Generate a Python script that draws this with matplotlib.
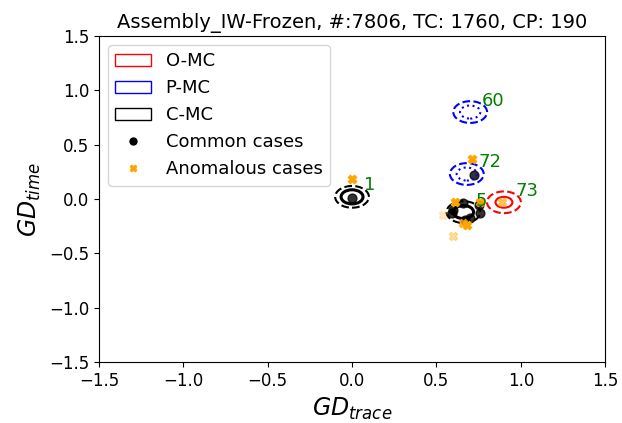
import matplotlib
matplotlib.use("Agg")
import matplotlib.pyplot as plt
from matplotlib.patches import Ellipse, Patch
from matplotlib.lines import Line2D

# clusters (center x, center y, outer radius, inner radius)
cl_ids = ["1", "60", "72", "5", "73"]
cl_tipo = ["C", "P", "P", "C", "O"]
cl_x = [0.0, 0.70, 0.68, 0.66, 0.90]
cl_y = [0.02, 0.80, 0.23, -0.12, -0.03]
cl_r_ext = [0.10, 0.10, 0.10, 0.10, 0.10]
cl_r_int = [0.065, 0.06, 0.06, 0.06, 0.05]

# casos comunes
comun_x = [0.0, 0.72, 0.66, 0.60, 0.59, 0.75, 0.76, 0.67, 0.70]
comun_y = [0.01, 0.22, -0.04, -0.10, -0.13, -0.055, -0.13, -0.19, -0.17]

# casos anomalos (x, y, alpha)
anom_x = [0.0, 0.71, 0.61, 0.76, 0.68, 0.66, 0.89, 0.54, 0.60]
anom_y = [0.18, 0.37, -0.03, -0.03, -0.24, -0.22, -0.03, -0.15, -0.34]
anom_a = [1.0, 1.0, 1.0, 0.9, 1.0, 0.8, 0.6, 0.2, 0.35]

colores = {"O": "red", "P": "blue", "C": "black"}
estilo_int = {"O": "-", "P": ":", "C": "-"}

fig, ax = plt.subplots(figsize=(6.22, 4.23), dpi=100)
fig.subplots_adjust(left=0.159, right=0.973, top=0.915, bottom=0.144)

for i in range(len(cl_ids)):
    c = colores[cl_tipo[i]]
    ax.add_patch(Ellipse((cl_x[i], cl_y[i]), 2 * cl_r_ext[i], 2 * cl_r_ext[i],
                         fill=False, edgecolor=c, linestyle="--", linewidth=1.5, zorder=3))
    lw = 2.2 if cl_tipo[i] == "C" else 1.5
    ax.add_patch(Ellipse((cl_x[i], cl_y[i]), 2 * cl_r_int[i], 2 * cl_r_int[i],
                         fill=False, edgecolor=c, linestyle=estilo_int[cl_tipo[i]], linewidth=lw, zorder=3))
    ax.text(cl_x[i] + 0.07, cl_y[i] + 0.06, cl_ids[i], color="green", fontsize=13, zorder=5)

ax.scatter(comun_x, comun_y, color="black", s=40, alpha=0.8, zorder=2)
for x, y, a in zip(anom_x, anom_y, anom_a):
    ax.scatter([x], [y], color="orange", marker="X", s=35, alpha=a, zorder=4)

ax.set_xlim(-1.5, 1.5)
ax.set_ylim(-1.5, 1.5)
ax.tick_params(labelsize=12)
ax.set_xlabel("$GD_{trace}$", fontsize=17)
ax.set_ylabel("$GD_{time}$", fontsize=17)
ax.set_title("Assembly_IW-Frozen, #:7806, TC: 1760, CP: 190", fontsize=14)

handles = [
    Patch(facecolor="none", edgecolor="red", label="O-MC"),
    Patch(facecolor="none", edgecolor="blue", label="P-MC"),
    Patch(facecolor="none", edgecolor="black", label="C-MC"),
    Line2D([], [], marker="o", color="black", linestyle="none", markersize=5, label="Common cases"),
    Line2D([], [], marker="X", color="orange", linestyle="none", markersize=5, label="Anomalous cases"),
]
ax.legend(handles=handles, loc="upper left", fontsize=13)

fig.savefig("out.png")
